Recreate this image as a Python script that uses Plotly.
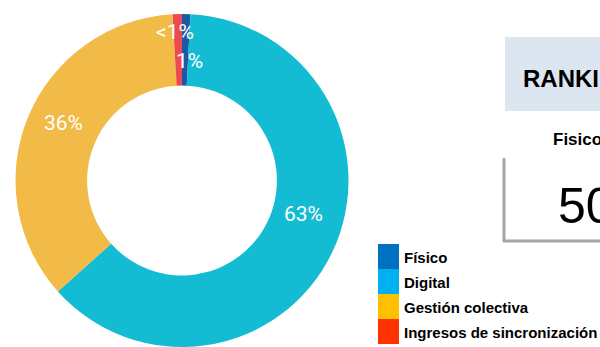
import math
import plotly.graph_objects as go

# ---- data ----
categories = ["Físico", "Digital", "Gestión colectiva", "Ingresos de sincronización"]
values = [0.8, 62.6, 35.7, 0.9]
value_labels = ["1%", "63%", "36%", "<1%"]
pie_colors = ["#1c5aa6", "#14bcd3", "#f2bb47", "#ea4a50"]
legend_colors = ["#0070c0", "#00b0f0", "#ffc000", "#ff3300"]
ranking_title = "RANKING"
ranking_sub = "Fisico"
ranking_value = "50"

# ---- layout geometry (pixels) ----
W, H = 600, 347
MT, MB = 14, 0
PH = H - MT - MB
R = PH / 2.0
CX = 182
CY = MT + R
HOLE = 0.57


def px(x):
    return x / W


def py(y):
    return 1 - (y - MT) / PH


fig = go.Figure()
fig.add_trace(go.Pie(
    labels=categories,
    values=values,
    marker=dict(colors=pie_colors, line=dict(width=0)),
    hole=HOLE,
    sort=False,
    direction="clockwise",
    rotation=0,
    textinfo="none",
    hoverinfo="label+percent",
    domain=dict(x=[px(CX - R), px(CX + R)], y=[0, 1]),
    showlegend=False,
))

# value labels placed from the data angles
label_radius = [0.72, 0.76, 0.79, 0.89]
label_shift_deg = [2.0, -10.0, 3.5, -1.0]
total = sum(values)
cum = 0.0
annotations = []
for v, t, rf, sh in zip(values, value_labels, label_radius, label_shift_deg):
    mid = (cum + v / 2) / total * 360 + sh
    cum += v
    a = math.radians(mid)
    x = CX + rf * R * math.sin(a)
    y = CY - rf * R * math.cos(a)
    annotations.append(dict(
        x=px(x), y=py(y), xref="paper", yref="paper", text=t, showarrow=False,
        xanchor="center", yanchor="middle",
        font=dict(family="Roboto", size=21, color="white"),
    ))

shapes = []
# custom legend
LX0, LX1 = 378, 399
LY0, STEP = 244, 25
for i, (name, col) in enumerate(zip(categories, legend_colors)):
    y0 = LY0 + i * STEP
    shapes.append(dict(type="rect", xref="paper", yref="paper",
                       x0=px(LX0), x1=px(LX1), y0=py(y0), y1=py(y0 + STEP),
                       fillcolor=col, line=dict(width=0)))
    annotations.append(dict(
        x=px(402), y=py(y0 + STEP / 2 + 1), xref="paper", yref="paper",
        text="<b>" + name + "</b>", showarrow=False, xanchor="left", yanchor="middle",
        font=dict(family="Liberation Sans", size=15, color="black"),
    ))

# ranking panel (partially outside the view)
shapes.append(dict(type="rect", xref="paper", yref="paper",
                   x0=px(505), x1=px(640), y0=py(37), y1=py(111),
                   fillcolor="#dce6f1", line=dict(width=0)))
shapes.append(dict(type="line", xref="paper", yref="paper",
                   x0=px(504), x1=px(504), y0=py(158), y1=py(242),
                   line=dict(color="#a6a6a6", width=3)))
shapes.append(dict(type="line", xref="paper", yref="paper",
                   x0=px(503), x1=px(640), y0=py(241), y1=py(241),
                   line=dict(color="#a6a6a6", width=3)))
annotations.append(dict(
    x=px(521), y=py(79), xref="paper", yref="paper", text="<b>" + ranking_title + "</b>",
    showarrow=False, xanchor="left", yanchor="middle",
    font=dict(family="Liberation Sans", size=24, color="black"),
))
annotations.append(dict(
    x=px(551), y=py(139), xref="paper", yref="paper", text="<b>" + ranking_sub + "</b>",
    showarrow=False, xanchor="left", yanchor="middle",
    font=dict(family="Liberation Sans", size=17, color="black"),
))
annotations.append(dict(
    x=px(556), y=py(206), xref="paper", yref="paper", text=ranking_value,
    showarrow=False, xanchor="left", yanchor="middle",
    font=dict(family="Liberation Sans", size=50, color="black"),
))

fig.update_layout(
    width=W, height=H,
    margin=dict(l=0, r=0, t=MT, b=MB),
    paper_bgcolor="white", plot_bgcolor="white",
    showlegend=False,
    shapes=shapes,
    annotations=annotations,
)

fig.write_html("out.html")
